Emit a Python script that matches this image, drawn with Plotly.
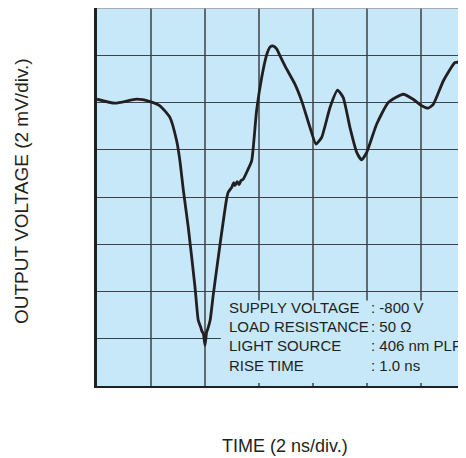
import plotly.graph_objects as go

# Time (ns) and output voltage (mV)
time_ns = [0.00, 0.67, 1.47, 1.96, 2.33, 2.70, 2.95, 3.07, 3.20, 3.38, 3.63, 3.75, 3.84, 3.89,
           3.94, 4.00, 4.06, 4.11, 4.19, 4.31, 4.56, 4.80, 4.86, 4.99, 5.06, 5.11, 5.19, 5.26,
           5.33, 5.42, 5.57, 5.73, 5.91, 6.10, 6.29, 6.41, 6.53, 6.66, 6.78, 6.96, 7.33, 7.58,
           7.89, 8.11, 8.32, 8.63, 8.91, 9.12, 9.37, 9.62, 9.80, 9.99, 10.36, 10.79, 11.34,
           11.71, 12.03, 12.27, 12.46, 12.83, 13.26, 13.44, 13.67, 13.90]
voltage_mv = [0.14, -0.03, 0.14, 0.04, -0.14, -0.63, -1.62, -2.46, -3.73, -5.28, -7.82, -9.22,
              -9.51, -9.69, -9.79, -10.28, -9.72, -9.56, -9.22, -8.10, -5.98, -4.08, -3.80,
              -3.59, -3.39, -3.52, -3.35, -3.48, -3.31, -3.24, -2.89, -2.46, -0.35, 1.06, 2.04,
              2.35, 2.39, 2.26, 1.97, 1.55, 0.78, 0.07, -1.06, -1.76, -1.48, -0.21, 0.52, 0.21,
              -1.06, -2.11, -2.43, -2.11, -0.91, 0.00, 0.35, 0.14, -0.14, -0.24, -0.07, 0.92,
              1.69, 1.69, 1.34, 0.90]

info_labels = ["SUPPLY VOLTAGE", "LOAD RESISTANCE", "LIGHT SOURCE", "RISE TIME"]
info_values = [": -800 V", ": 50 Ω", ": 406 nm PLP", ": 1.0 ns"]

x_title = "TIME (2 ns/div.)"
y_title = "OUTPUT VOLTAGE (2 mV/div.)"

INK = "#231f20"
BG = "#c6e8f8"
FONT = "Liberation Sans, Arial, sans-serif"

fig = go.Figure()
fig.add_trace(go.Scatter(
    x=time_ns, y=voltage_mv, mode="lines",
    line=dict(color=INK, width=2.8, shape="spline", smoothing=0.5),
    hoverinfo="skip", showlegend=False,
))

# info box covering the grid
fig.add_shape(type="rect", xref="x", yref="y", x0=4.59, x1=14.5, y0=-11.87, y1=-8.38,
              fillcolor=BG, line=dict(width=0), layer="between")
# top border (gray)
fig.add_shape(type="line", xref="paper", yref="paper", x0=0, x1=1, y0=1, y1=1,
              line=dict(color="#9a9a9a", width=1.5))

row_y = [-8.66, -9.50, -10.28, -11.12]
annotations = []
for lab, val, yy in zip(info_labels, info_values, row_y):
    annotations.append(dict(x=4.81, y=yy, xref="x", yref="y", text=lab, showarrow=False,
                            xanchor="left", yanchor="middle",
                            font=dict(family=FONT, size=15, color=INK)))
    annotations.append(dict(x=10.07, y=yy, xref="x", yref="y", text=val, showarrow=False,
                            xanchor="left", yanchor="middle",
                            font=dict(family=FONT, size=15, color=INK)))
annotations.append(dict(x=0.509, y=-0.159, xref="paper", yref="paper", text=x_title,
                        showarrow=False, xanchor="center", yanchor="middle",
                        font=dict(family=FONT, size=18, color=INK)))
annotations.append(dict(x=-0.204, y=0.515, xref="paper", yref="paper", text=y_title,
                        showarrow=False, xanchor="center", yanchor="middle", textangle=-90,
                        font=dict(family=FONT, size=19, color=INK)))

fig.update_layout(
    width=458, height=450,
    margin=dict(l=89, r=0, t=0, b=72),
    paper_bgcolor="white", plot_bgcolor=BG,
    annotations=annotations,
    xaxis=dict(range=[0, 13.667], dtick=2, tick0=0, showgrid=True,
               gridcolor="#5f6b70", gridwidth=1.6, zeroline=False,
               showticklabels=False, ticks="", showline=True,
               linecolor=INK, linewidth=2, fixedrange=True),
    yaxis=dict(range=[-12, 4], dtick=2, tick0=0, showgrid=True,
               gridcolor="#3c4246", gridwidth=1.3, zeroline=False,
               showticklabels=False, ticks="", showline=True,
               linecolor=INK, linewidth=2.5, fixedrange=True),
)

fig.write_html("out.html")
